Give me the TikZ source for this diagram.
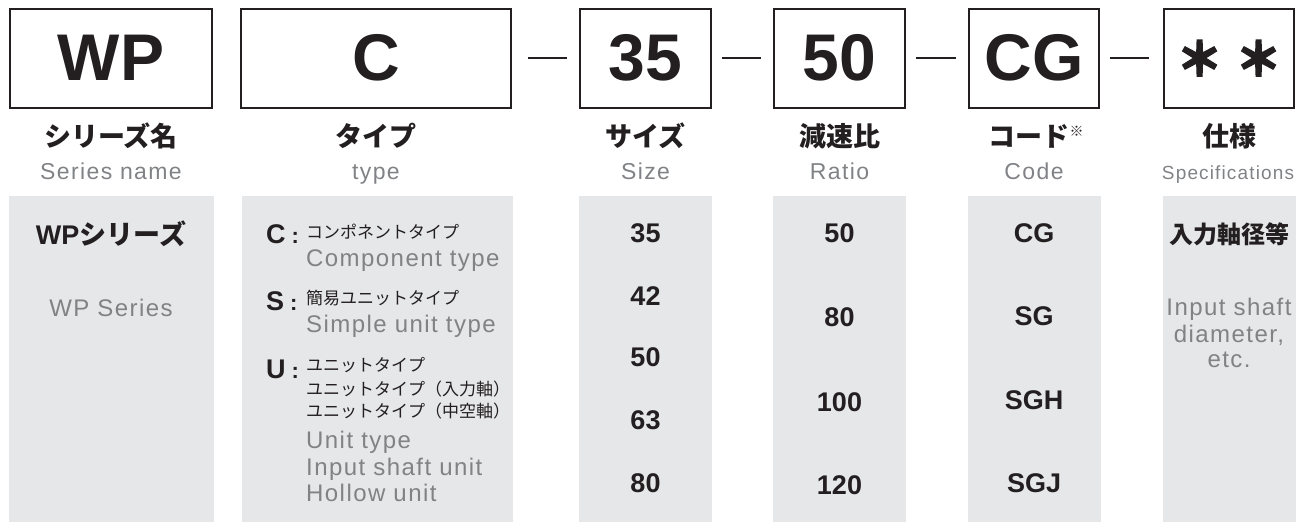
\documentclass[tikz,border=0pt]{standalone}
\usepackage{fontspec}
\setmainfont{Liberation Sans}
\newfontfamily\jp{Noto Sans CJK JP}
\newfontfamily\jpheavy[FakeBold=4]{Noto Sans CJK JP}
\newfontfamily\lite[LetterSpace=6]{Liberation Sans}
\usepackage{xcolor}
\definecolor{cInk}{HTML}{231F20}
\definecolor{cGray}{HTML}{808285}
\definecolor{cPanel}{HTML}{E6E7E8}
\usepackage{tikz}
\usetikzlibrary{positioning}
\tikzset{
  code-box/.style={draw=cInk,line width=2pt,minimum height=99pt,inner sep=0pt,
    text=cInk,font=\bfseries\fontsize{66}{66}\selectfont},
  panel-box/.style={fill=cPanel,inner sep=0pt,minimum height=326pt,anchor=north},
  head-jp/.style={inner sep=0pt,text=cInk,font=\jp\bfseries\fontsize{27}{27}\selectfont},
  head-en/.style={inner sep=0pt,anchor=base,text=cGray,font=\lite\fontsize{23}{23}\selectfont},
  val-text/.style={inner sep=0pt,text=cInk,font=\bfseries\fontsize{27}{27}\selectfont},
  key-text/.style={inner sep=0pt,anchor=base west,text=cInk,font=\bfseries\fontsize{27}{27}\selectfont},
  small-jp/.style={inner sep=0pt,anchor=west,text=cInk,font=\jp\fontsize{17}{17}\selectfont},
  note-en/.style={inner sep=0pt,anchor=base,text=cGray,font=\lite\fontsize{24}{24}\selectfont},
  joint/.style={draw=cInk,line width=2.5pt,shorten <=10pt,shorten >=12pt},
}
\newcommand{\keycolon}{\hspace{6pt}{\fontsize{22}{22}\selectfont :}}

\begin{document}
\begin{tikzpicture}[x=1pt,y=-1pt]
  \useasboundingbox (0,0) rectangle (1298,522);
  % grey columns under the code boxes
  \foreach \n/\x/\w in {wp/111/205,tp/377/271,sz/645.5/133,rt/839.5/133,cd/1034/133,sp/1229/133}
    \node[panel-box,minimum width=\w pt] (p-\n) at (\x,196) {};

  \node[code-box,minimum width=202pt] (wp) at (111,58) {WP};
  \node[code-box,minimum width=270pt] (tp) at (376,58) {C};
  \node[code-box,minimum width=131pt] (sz) at (645.5,58) {35};
  \node[code-box,minimum width=131pt] (rt) at (839.5,58) {50};
  \node[code-box,minimum width=130pt] (cd) at (1034,58) {CG};
  \node[code-box,minimum width=130pt,font=\jpheavy\bfseries\fontsize{46}{46}\selectfont] (sp) at (1229,58) {＊\hspace{13pt}＊};
  \draw[joint,shorten <=16pt] (tp) -- (sz);
  \draw[joint] (sz) -- (rt);
  \draw[joint] (rt) -- (cd);
  \draw[joint,shorten >=14pt] (cd) -- (sp);

  \node[head-jp] (wp-jp) at (111,136) {シリーズ名};
  \node[head-en] (wp-en) at (111,179) {Series name};
  \node[head-jp] (tp-jp) at (376,136) {タイプ};
  \node[head-en] (tp-en) at (376,179) {type};
  \node[head-jp] (sz-jp) at (645.5,136) {サイズ};
  \node[head-en] (sz-en) at (645.5,179) {Size};
  \node[head-jp] (rt-jp) at (839.5,136) {減速比};
  \node[head-en] (rt-en) at (839.5,179) {Ratio};
  \node[head-jp] (cd-jp) at (1036,136) {コード\raisebox{10pt}{\fontsize{14}{14}\selectfont ※}};
  \node[head-en] (cd-en) at (1034,179) {Code};
  \node[head-jp] (sp-jp) at (1229,136) {仕様};
  \node[head-en,font=\lite\fontsize{19}{19}\selectfont] (sp-en) at (1228,179) {Specifications};

  \node[val-text] (wp-v) at (111,234) {WP{\jp シリーズ}};
  \node[note-en] (wp-n) at (111,316) {WP Series};

  \node[key-text] (tc) at (266,243) {C\keycolon};
  \node[small-jp] (tc-jp) at (306,232) {コンポネントタイプ};
  \node[note-en,anchor=base west] (tc-en) at (306,266) {Component type};
  \node[key-text] (ts) at (266,310) {S\keycolon};
  \node[small-jp] (ts-jp) at (306,298) {簡易ユニットタイプ};
  \node[note-en,anchor=base west] (ts-en) at (306,332) {Simple unit type};
  \node[key-text] (tu) at (266,378) {U\keycolon};
  \node[small-jp] (tu-jp1) at (306,365) {ユニットタイプ};
  \node[small-jp] (tu-jp2) at (306,389) {ユニットタイプ（入力軸）};
  \node[small-jp] (tu-jp3) at (306,411) {ユニットタイプ（中空軸）};
  \node[note-en,anchor=base west] (tu-en1) at (306,448) {Unit type};
  \node[note-en,anchor=base west] (tu-en2) at (306,475) {Input shaft unit};
  \node[note-en,anchor=base west] (tu-en3) at (306,501) {Hollow unit};

  \foreach \v/\y in {35/233,42/296,50/357,63/420,80/483}
    \node[val-text] (sz-\v) at (645.5,\y) {\v};
  \foreach \v/\y in {50/233,80/317,100/402,120/485}
    \node[val-text] (rt-\v) at (839.5,\y) {\v};
  \foreach \v/\y in {CG/233,SG/316,SGH/400,SGJ/483}
    \node[val-text] (cd-\v) at (1034,\y) {\v};

  \node[val-text,font=\jp\bfseries\fontsize{24}{24}\selectfont] (sp-v) at (1229,234) {入力軸径等};
  \node[note-en] (sp-n1) at (1229,315) {Input shaft};
  \node[note-en] (sp-n2) at (1229,342) {diameter,};
  \node[note-en] (sp-n3) at (1229,367) {etc.};
\end{tikzpicture}
\end{document}
